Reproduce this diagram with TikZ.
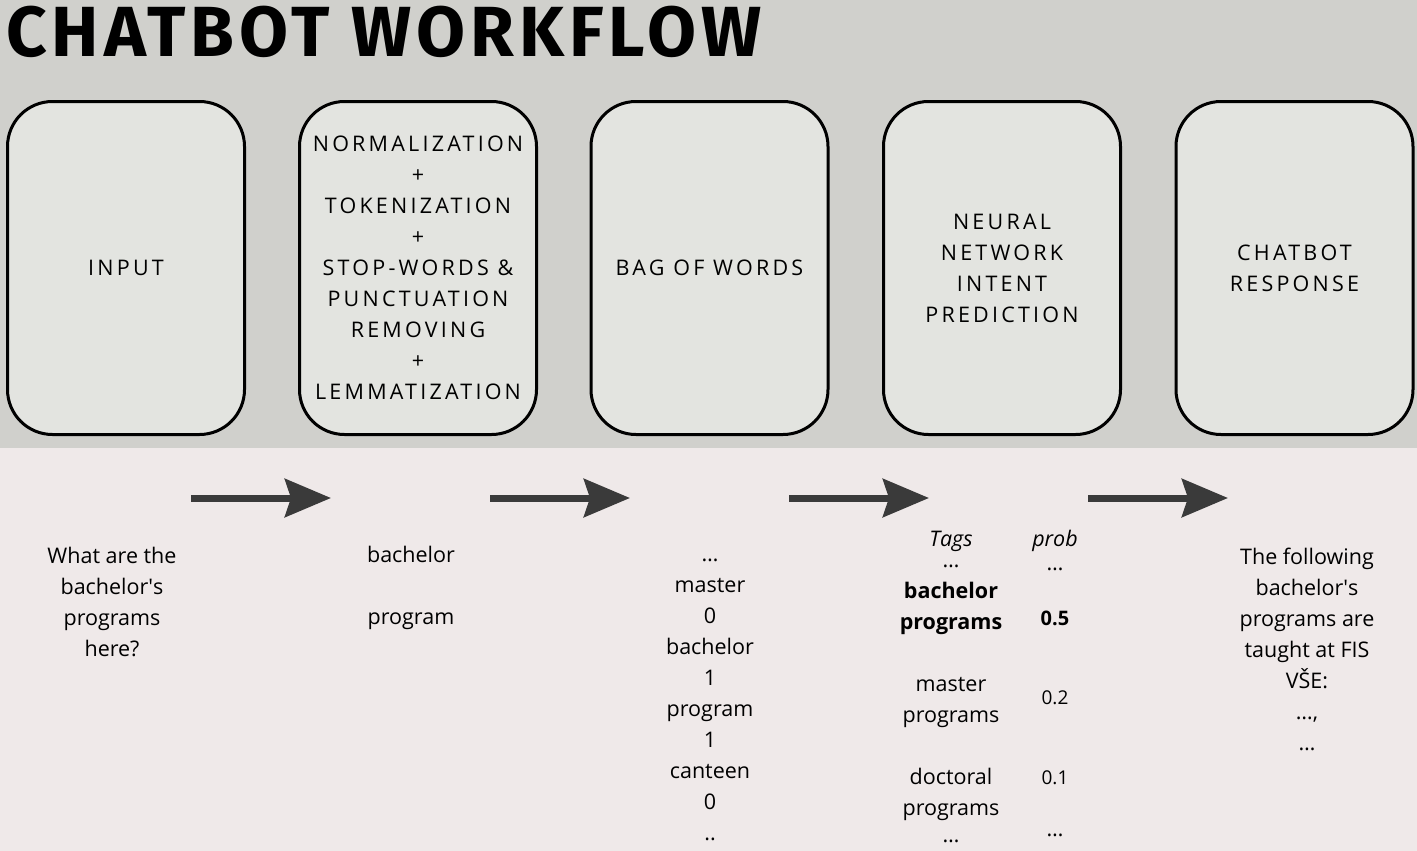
\documentclass[tikz,border=0pt]{standalone}
\usepackage{fontspec}
\setmainfont{Open Sans}
\newfontfamily\titlefont{Fira Sans}[LetterSpace=7]
\newfontfamily\capsfont{Open Sans}[LetterSpace=15]
\usetikzlibrary{arrows.meta}
\definecolor{topbg}{HTML}{D0D0CC}
\definecolor{botbg}{HTML}{EFE9E9}
\definecolor{boxfill}{HTML}{E3E4E0}
\definecolor{arrowc}{HTML}{3A3A3A}
\tikzset{
  stage/.style={draw=black, line width=3pt, fill=boxfill, rounded corners=45pt,
    minimum width=237pt, minimum height=333pt, inner sep=0pt, align=center,
    font=\capsfont\fontsize{21.5}{31}\selectfont},
  flow/.style={draw=arrowc, line width=7pt,
    -{Stealth[length=46pt, width=38pt, inset=6pt]}},
  body/.style={align=center, inner sep=0pt, font=\fontsize{21.5}{31}\selectfont},
  itbody/.style={align=center, inner sep=0pt, font=\fontsize{21.5}{31}\selectfont\itshape},
  bfbody/.style={align=center, inner sep=0pt, font=\fontsize{21.5}{31}\selectfont\bfseries},
  smbody/.style={align=center, inner sep=0pt, font=\fontsize{19}{31}\selectfont},
}
\begin{document}
\begin{tikzpicture}[x=1pt,y=-1pt]
\fill[topbg] (0,0) rectangle (1417,448);
\fill[botbg] (0,448) rectangle (1417,851);
\useasboundingbox (0,0) rectangle (1417,851);

% title
\node[anchor=base west, inner sep=0pt, font=\titlefont\bfseries\fontsize{71}{80}\selectfont] (title) at (6,57) {CHATBOT WORKFLOW};

% stage boxes
\node[stage] (b1) at (126,268) {INPUT};
\node[stage] (b2) at (418,268) {NORMALIZATION\\+\\TOKENIZATION\\+\\STOP-WORDS \&\\PUNCTUATION\\REMOVING\\+\\LEMMATIZATION};
\node[stage] (b3) at (709.5,268) {BAG OF WORDS};
\node[stage] (b4) at (1002,268) {NEURAL\\NETWORK\\INTENT\\PREDICTION};
\node[stage] (b5) at (1294.5,268) {CHATBOT\\RESPONSE};

% arrows
\coordinate (a1s) at (191,498); \coordinate (a1e) at (331,498);
\coordinate (a2s) at (490,498); \coordinate (a2e) at (630,498);
\coordinate (a3s) at (789,498); \coordinate (a3e) at (929,498);
\coordinate (a4s) at (1088,498); \coordinate (a4e) at (1228,498);
\draw[flow] (a1s) -- (a1e);
\draw[flow] (a2s) -- (a2e);
\draw[flow] (a3s) -- (a3e);
\draw[flow] (a4s) -- (a4e);

% column 1
\node[body] (query) at (112,602) {What are the\\bachelor\textquotesingle s\\programs\\here?};
% column 2
\node[body] (tokens) at (411,588) {bachelor\\[31pt]program};
% column 3
\node[body] (bow) at (710,700) {…\\master\\0\\bachelor\\1\\program\\1\\canteen\\0\\..};
% column 4
\node[itbody] (tags) at (951,541) {Tags};
\node[body] (tdots1) at (951,566) {…};
\node[bfbody] (tbach) at (951,608) {bachelor\\programs};
\node[body] (tmast) at (951,702) {master\\programs};
\node[body] (tdoct) at (951,794) {doctoral\\programs};
\node[body] (tdots2) at (951,841) {…};
\node[itbody] (prob) at (1055,541) {prob};
\node[body] (pdots1) at (1055,569) {…};
\node[bfbody, font=\fontsize{20}{31}\selectfont\bfseries] (p1) at (1055,618) {0.5};
\node[smbody] (p2) at (1055,698) {0.2};
\node[smbody] (p3) at (1055,778) {0.1};
\node[body] (pdots2) at (1055,835) {…};
% column 5
\node[body] (resp) at (1307,649) {The following\\bachelor\textquotesingle s\\programs are\\taught at FIS\\VŠE:\\…,\\…};
\end{tikzpicture}
\end{document}
